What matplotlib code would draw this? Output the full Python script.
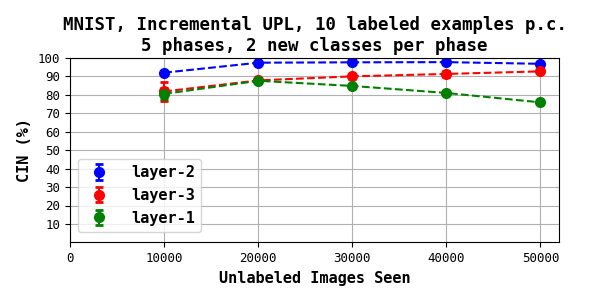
import matplotlib
matplotlib.use("Agg")
import matplotlib.pyplot as plt

x = [10000, 20000, 30000, 40000, 50000]
series = ["layer-2", "layer-3", "layer-1"]
colors = ["blue", "red", "green"]
means = {
    "layer-2": [92.0, 97.4, 97.6, 97.7, 96.8],
    "layer-3": [81.8, 87.8, 90.0, 91.3, 92.7],
    "layer-1": [80.5, 87.6, 84.8, 81.0, 75.9],
}
errs = {
    "layer-2": [0.8, 0.5, 0.5, 0.5, 0.5],
    "layer-3": [5.0, 0.8, 1.2, 1.5, 0.8],
    "layer-1": [3.0, 1.0, 1.0, 1.0, 1.0],
}
yticks = [10, 20, 30, 40, 50, 60, 70, 80, 90, 100]
xticks = [0, 10000, 20000, 30000, 40000, 50000]

plt.rcParams['font.family'] = 'DejaVu Sans Mono'
fig = plt.figure(figsize=(6, 3), dpi=100)
ax = fig.add_axes([0.117, 0.192, 0.815, 0.615])
for name, c in zip(series, colors):
    ax.plot(x, means[name], '--', color=c)
    ax.errorbar(x, means[name], yerr=errs[name], fmt='o', color=c,
                markersize=7, capsize=3, capthick=2, label=name)
ax.set_xlim(0, 52000)
ax.set_ylim(0, 100)
ax.set_xticks(xticks)
ax.set_yticks(yticks)
ax.grid(True)
ax.tick_params(labelsize=9)
ax.set_xlabel("Unlabeled Images Seen", fontsize=11, fontweight='bold', labelpad=4)
ax.set_ylabel("CIN (%)", fontsize=11, fontweight='bold')
ax.set_title("MNIST, Incremental UPL, 10 labeled examples p.c.\n5 phases, 2 new classes per phase",
             fontsize=12.5, fontweight='bold', pad=5)
ax.legend(loc='lower left', bbox_to_anchor=(0.016, 0.058), borderaxespad=0,
          handletextpad=1.1, prop={'weight': 'bold', 'size': 11})
fig.savefig("out.png", dpi=100)
